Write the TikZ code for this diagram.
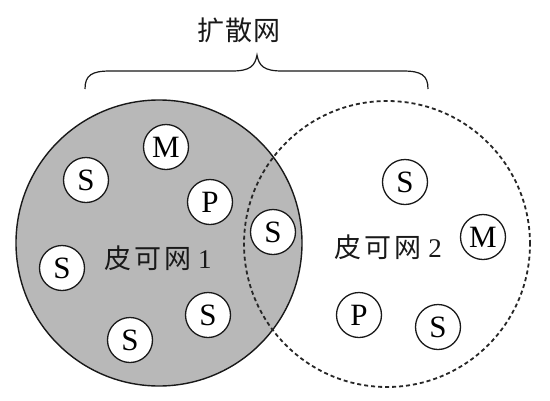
\documentclass[tikz,border=0pt]{standalone}
\usepackage{fontspec}
\setmainfont{Liberation Serif}
\newfontfamily\cjk{Noto Sans CJK SC}
\begin{document}
\begin{tikzpicture}[x=1pt,y=-1pt,
  agent/.style={circle,draw=black!90,line width=1.3pt,fill=white,minimum size=45pt,inner sep=0pt,font=\fontsize{31}{31}\selectfont},
  netlabel/.style={inner sep=0pt,text=black!90,font=\fontsize{27}{27}\selectfont},
  bigc/.style={line width=1.4pt}]
\useasboundingbox (0,0) rectangle (550,400);
\fill[white] (0,0) rectangle (550,400);
% left piconet
\node[bigc,circle,draw=black!90,fill=black!28,minimum size=286pt,inner sep=0pt] (net1) at (159,243) {};
% right piconet
\node[circle,line width=1.8pt,draw=black!85,dash pattern=on 4pt off 3pt,minimum size=286pt,inner sep=0pt] (net2) at (387,244) {};
% brace
\draw[line width=1.2pt,black!90] (85,89) .. controls (85,75) and (92,71) .. (110,71) -- (232,71)
  .. controls (250,71) and (255,66) .. (257,55)
  .. controls (259,66) and (264,71) .. (282,71) -- (403,71)
  .. controls (421,71) and (428,75) .. (428,89);
\node[inner sep=0pt,text=black!90,font=\fontsize{27}{27}\selectfont] (scat) at (239,30) {\cjk 扩\kern1pt 散\kern1pt 网};
% agents in piconet 1
\node[agent] (m1) at (166,147) {M};
\node[agent] (s1) at (86,180) {S};
\node[agent] (p1) at (210,202) {P};
\node[agent] (sb) at (273,232) {S};
\node[agent] (s2) at (62,268) {S};
\node[agent] (s3) at (208,315) {S};
\node[agent] (s4) at (130,340) {S};
\node[netlabel] (l1) at (158,258) {{\cjk 皮\kern3pt 可\kern3pt 网}\kern7pt 1};
% agents in piconet 2
\node[agent] (s5) at (405,182) {S};
\node[agent] (m2) at (483,237) {M};
\node[agent] (p2) at (359,315) {P};
\node[agent] (s6) at (438,327) {S};
\node[netlabel] (l2) at (388,247) {{\cjk 皮\kern3pt 可\kern3pt 网}\kern7pt 2};
\end{tikzpicture}
\end{document}
